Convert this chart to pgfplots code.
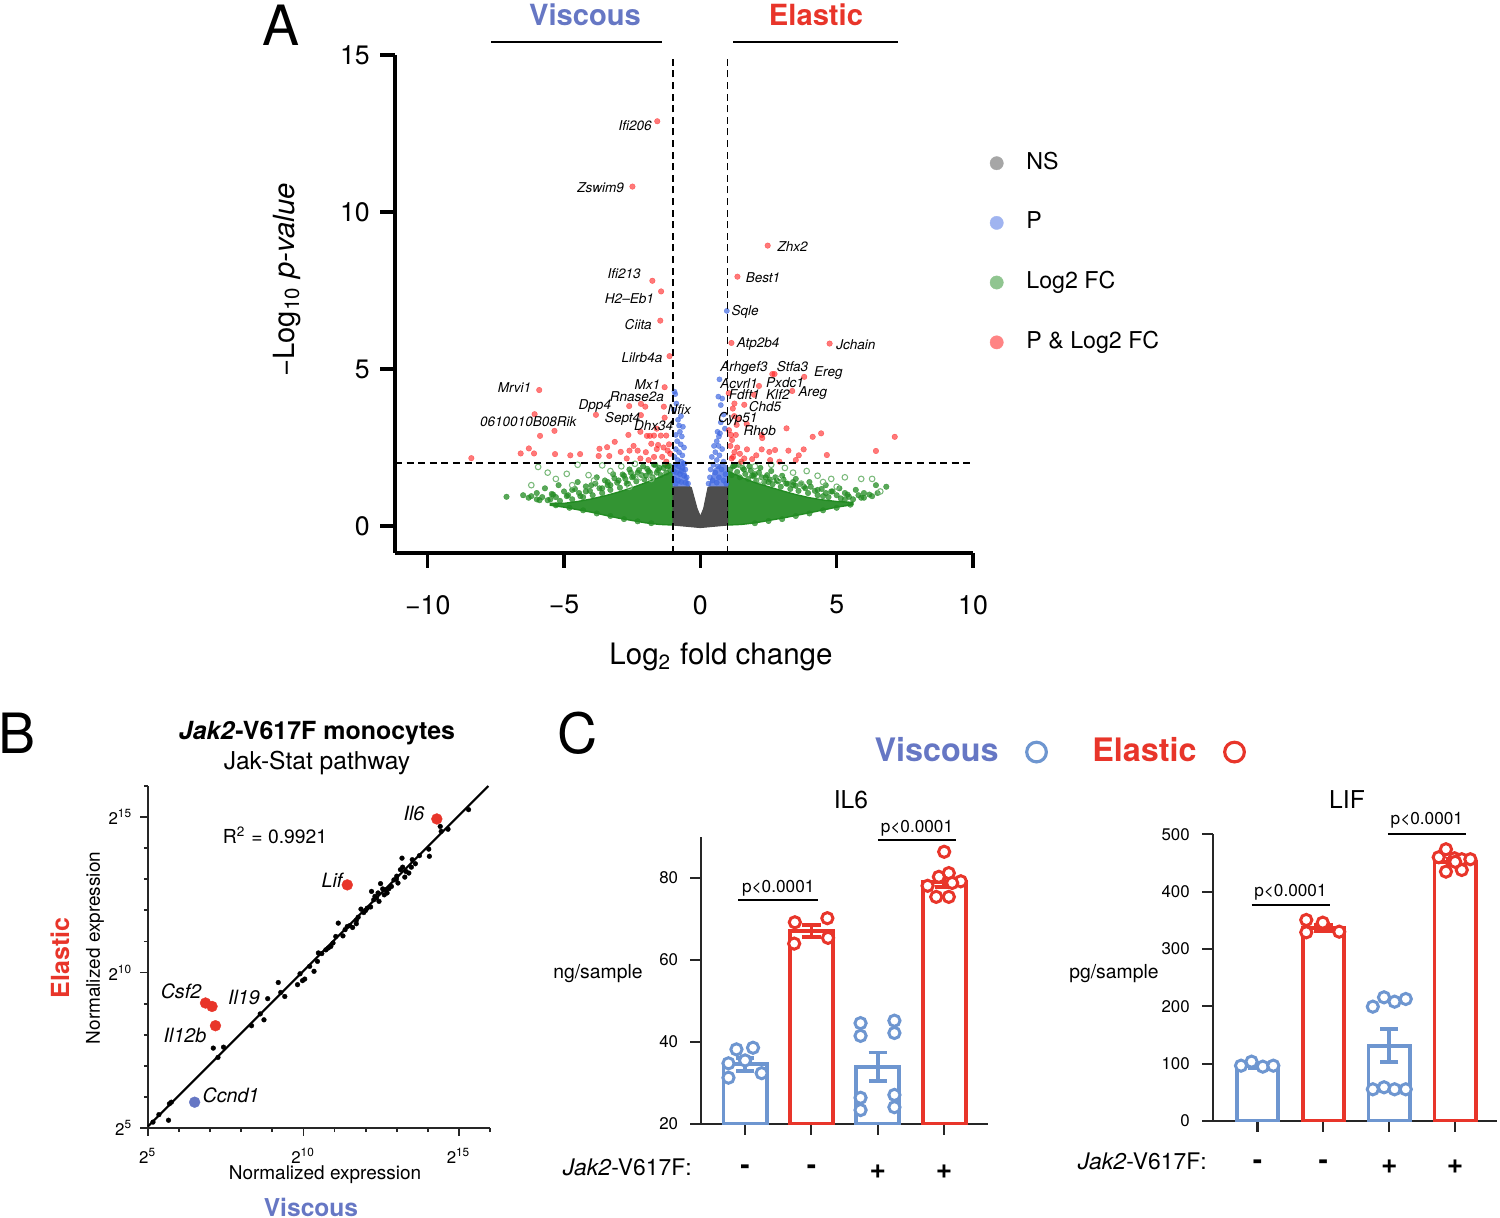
\documentclass[border=0pt]{standalone}
\usepackage{pgfplots}
\pgfplotsset{compat=1.18}
\usepackage{fontspec}
\setmainfont{TeX Gyre Heros}
\definecolor{vblue}{HTML}{6677C4}
\definecolor{ered}{HTML}{E8352A}
\definecolor{barblue}{HTML}{6E96D0}
\definecolor{nsgray}{HTML}{4D4D4D}
\definecolor{fcgreen}{HTML}{228B22}
\definecolor{pblue}{HTML}{4169E1}
\definecolor{pred}{HTML}{FF2020}
\newcommand{\fs}[1]{\fontsize{#1}{#1}\selectfont}
\pgfplotsset{every axis/.append style={/pgf/number format/assume math mode=true}}
\begin{document}
\begin{tikzpicture}
\useasboundingbox (0,0) rectangle (15,12.17);

% ================= Panel A =================
\begin{axis}[
  at={(3.95cm,6.64cm)}, anchor=south west, scale only axis,
  width=5.78cm, height=4.98cm,
  xmin=-11.2, xmax=10, ymin=-0.86, ymax=15,
  axis lines*=left,
  axis line style={line width=1pt, black},
  tick align=outside, major tick length=4.2pt,
  tick style={line width=1pt, black},
  xtick={-10,-5,0,5,10}, ytick={0,5,10,15},
  xticklabels={−10,−5,0,5,10},
  yticklabels={0,5,10,15},
  ticklabel style={font=\fs{7.6}},
  xticklabel style={yshift=-1.5mm},
  yticklabel style={xshift=0.2mm},
  clip mode=individual,
  legend style={at={(1.01,0.835)}, anchor=north west, draw=none, fill=none,
    font=\fs{6.6}, row sep=6.6pt, cells={anchor=west},
    /tikz/every odd column/.append style={column sep=1.6mm}},
  legend image code/.code={\draw[#1] plot coordinates {(0.1cm,0cm)};},
]
\addlegendimage{only marks, mark=*, mark size=1.9pt, mark options={draw=black!35, fill=black!35, line width=0.1pt}}
\addlegendentry{NS}
\addlegendimage{only marks, mark=*, mark size=1.9pt, mark options={draw=pblue!50!white, fill=pblue!50!white, line width=0.1pt}}
\addlegendentry{P}
\addlegendimage{only marks, mark=*, mark size=1.9pt, mark options={draw=fcgreen!50!white, fill=fcgreen!50!white, line width=0.1pt}}
\addlegendentry{Log2 FC}
\addlegendimage{only marks, mark=*, mark size=1.9pt, mark options={draw=pred!55!white, fill=pred!55!white, line width=0.1pt}}
\addlegendentry{P \& Log2 FC}

% dense green (Log2 FC) cores
\addplot[fill=fcgreen, draw=fcgreen, fill opacity=0.92, line width=0.4pt, forget plot] coordinates {
(-1,1.75) (-1.5,1.55) (-2.0,1.38) (-2.5,1.22) (-3.0,1.08) (-3.5,0.96) (-4.0,0.86) (-4.5,0.78) (-5.0,0.72) (-5.5,0.72)
(-5.5,0.66) (-5.0,0.60) (-4.0,0.44) (-3.0,0.25) (-2.0,0.10) (-1.5,0.05) (-1.0,0.03)} --cycle;
\addplot[fill=fcgreen, draw=fcgreen, fill opacity=0.92, line width=0.4pt, forget plot] coordinates {
(1,1.75) (1.5,1.55) (2.0,1.38) (2.5,1.25) (3.0,1.12) (3.5,1.0) (4.0,0.9) (4.5,0.83) (5.0,0.78) (5.6,0.75)
(5.6,0.68) (5.0,0.60) (4.0,0.42) (3.0,0.25) (2.0,0.10) (1.5,0.05) (1.0,0.03)} --cycle;
% green points
\addplot[only marks, mark=*, mark size=0.8pt, mark options={draw=fcgreen, fill=fcgreen, line width=0.1pt, opacity=0.75}, forget plot] coordinates {
(-7.11,0.93) (-6.0,1.05) (-5.7,1.2) (-5.4,1.0) (-5.2,1.3) (-4.9,0.95) (-4.7,1.15) (-4.5,1.4) (-4.2,1.1) (-4.0,1.3)
(-3.8,1.55) (-3.6,1.2) (-3.4,1.4) (-3.2,1.65) (-3.0,1.45) (-2.8,1.6) (-2.6,1.8) (-2.5,1.55) (-2.3,1.7) (-2.1,1.9)
(-1.9,1.75) (-1.7,1.95) (-1.5,1.85) (-1.3,1.95) (-1.2,1.9) (-6.3,0.9) (-5.9,0.82) (-3.3,1.3) (-2.7,1.35) (-2.0,1.6)
(-1.6,1.7) (-4.4,0.95) (-5.5,0.85)
(-1.1,1.78) (-1.15,1.92) (-1.25,1.70) (-1.35,1.85) (-1.45,1.62) (-1.55,1.78) (-1.65,1.95) (-1.75,1.55) (-1.85,1.70)
(-1.95,1.82) (-2.05,1.48) (-2.15,1.62) (-2.25,1.78) (-2.35,1.42) (-2.45,1.58) (-2.55,1.70) (-2.65,1.35) (-2.75,1.50)
(-2.85,1.64) (-2.95,1.22) (-3.05,1.38) (-3.15,1.52) (-3.3,1.15) (-3.4,1.30) (-3.5,1.45) (-3.6,1.05) (-3.7,1.20)
(-3.85,1.35) (-3.95,0.98) (-4.05,1.12) (-4.2,1.26) (-4.3,0.92) (-4.45,1.05) (-4.6,1.18) (-4.7,0.85) (-4.85,0.98)
(-5.0,1.10) (-5.15,0.80) (-5.3,0.92) (-5.45,1.02) (-5.6,0.82) (-5.8,0.92) (-6.0,0.85) (-6.2,0.95) (-6.5,0.98)
(-5.3,0.66) (-4.8,0.58) (-4.3,0.50) (-3.8,0.40) (-3.3,0.32) (-2.8,0.22) (-2.3,0.15) (-1.8,0.09)
(6.82,1.25) (6.44,1.30) (6.0,1.05) (5.7,1.15) (5.4,1.0) (5.1,1.2) (4.8,1.1) (4.6,1.3) (4.3,1.15) (4.0,1.4)
(3.8,1.25) (3.5,1.5) (3.2,1.35) (3.0,1.6) (2.8,1.45) (2.6,1.75) (2.4,1.55) (2.2,1.85) (2.0,1.65) (1.8,1.9)
(1.6,1.8) (1.4,1.95) (1.2,1.9) (6.3,0.95) (5.9,0.9) (3.4,1.3) (2.5,1.4) (1.9,1.6) (4.5,0.95) (5.3,0.85)
(1.1,1.80) (1.15,1.62) (1.25,1.92) (1.35,1.72) (1.45,1.55) (1.55,1.85) (1.65,1.66) (1.75,1.50) (1.85,1.76)
(1.95,1.60) (2.05,1.45) (2.15,1.70) (2.25,1.55) (2.35,1.40) (2.45,1.62) (2.55,1.48) (2.65,1.33) (2.75,1.55)
(2.85,1.42) (2.95,1.25) (3.05,1.48) (3.15,1.35) (3.3,1.18) (3.4,1.40) (3.5,1.28) (3.6,1.12) (3.7,1.33)
(3.85,1.20) (3.95,1.05) (4.05,1.25) (4.2,1.12) (4.3,0.98) (4.45,1.18) (4.6,1.05) (4.7,0.92) (4.85,1.10)
(5.0,0.98) (5.15,0.88) (5.3,1.05) (5.45,0.93) (5.6,0.85) (5.8,0.98) (6.0,0.90) (6.2,1.0) (6.5,1.05)
(5.5,0.68) (5.0,0.58) (4.5,0.50) (4.0,0.40) (3.5,0.32) (3.0,0.22) (2.5,0.16) (2.0,0.09)};
\addplot[only marks, mark=o, mark size=0.8pt, mark options={draw=fcgreen!60!white, line width=0.3pt}, forget plot] coordinates {
(-5.95,1.88) (-5.6,1.70) (-4.9,1.66) (-4.5,1.95) (-4.1,1.62) (-3.6,1.93) (-3.3,1.75) (-2.9,1.9) (-2.4,1.98) (-2.2,1.55)
(-1.8,1.5) (-5.3,1.5) (-6.2,1.3) (-3.9,1.45) (-2.6,1.25) (-4.7,1.3)
(1.5,1.98) (2.0,1.9) (2.6,1.95) (3.1,1.85) (3.4,1.7) (3.9,1.75) (4.3,1.6) (4.8,1.5) (5.3,1.55) (5.9,1.5)
(6.3,1.5) (2.2,1.45) (2.9,1.5) (3.7,1.35) (4.5,1.4) (5.0,1.25) (6.6,1.1)};
% NS cloud
\addplot[fill=nsgray, draw=nsgray, line width=0.3pt, forget plot] coordinates {
(-1,0.03) (-1,1.30) (-0.5,1.30) (-0.33,1.22) (-0.12,0.55) (0,0.30) (0.12,0.55) (0.28,1.22) (0.45,1.30)
(1,1.30) (1,0.03) (0.5,-0.01) (0,-0.05) (-0.5,-0.01)} --cycle;
% P (blue)
\addplot[fill=pblue!75!white, draw=pblue!75!white, line width=0.3pt, forget plot] coordinates {
(-1,1.28) (-0.42,1.28) (-0.5,1.6) (-0.62,1.95) (-0.95,2.0) (-1,1.9)} --cycle;
\addplot[fill=pblue!75!white, draw=pblue!75!white, line width=0.3pt, forget plot] coordinates {
(0.32,1.28) (1,1.28) (1,1.9) (0.8,2.0) (0.5,1.8)} --cycle;
\addplot[only marks, mark=*, mark size=0.75pt, mark options={draw=pblue, fill=pblue, line width=0.1pt, opacity=0.7}, forget plot] coordinates {
(-0.95,4.28) (-0.92,4.20) (-0.71,3.50) (-0.82,3.38) (-0.64,3.16) (-0.75,3.0) (-0.68,2.85) (-0.85,2.7) (-0.72,2.6)
(-0.60,2.5) (-0.90,2.45) (-0.78,2.35) (-0.66,2.25) (-0.95,2.2) (-0.83,2.1) (-0.7,2.05) (-0.58,1.98) (-0.92,1.95)
(-0.8,1.9) (-0.65,1.85) (-0.55,1.8) (-0.97,1.75) (-0.88,1.7) (-0.75,1.65) (-0.6,1.6) (-0.5,1.55) (-0.95,1.5)
(-0.82,1.45) (-0.7,1.4) (-0.55,1.38) (-0.45,1.35) (-0.9,1.35) (-0.97,3.7) (-0.88,3.9) (-0.78,3.2) (-0.9,2.9)
(-0.62,2.0) (-0.7,1.75)
(0.70,4.67) (0.66,4.12) (0.80,4.06) (0.75,3.85) (0.63,3.0) (0.68,2.85) (0.72,2.95) (0.6,2.7) (0.5,2.55) (0.67,2.55)
(0.8,2.45) (0.55,2.35) (0.42,2.2) (0.7,2.25) (0.6,2.1) (0.85,2.05) (0.48,1.95) (0.65,1.9) (0.38,1.8) (0.78,1.8)
(0.55,1.7) (0.92,1.65) (0.35,1.55) (0.68,1.55) (0.45,1.45) (0.85,1.45) (0.3,1.35) (0.6,1.38) (0.95,1.35)
(0.75,3.3) (0.85,3.55) (0.9,3.1) (0.97,6.85)};
% P & Log2 FC (red)
\addplot[only marks, mark=*, mark size=0.8pt, mark options={draw=pred, fill=pred, line width=0.1pt, opacity=0.6}, forget plot] coordinates {
(-1.58,12.89) (-2.49,10.81) (2.47,8.93) (-1.76,7.81) (1.36,7.94) (-1.44,7.47) (-1.47,6.54) (1.14,5.83) (4.74,5.81) (-1.13,5.41)
(2.64,4.84) (2.72,4.84) (3.81,4.75) (-5.91,4.33) (-1.31,4.42) (2.15,4.46) (3.37,4.30) (1.04,4.23) (1.97,4.18)
(-2.18,3.89) (-2.02,3.80) (-1.34,3.80) (-3.83,3.54) (1.61,3.86) (1.19,3.74) (-2.61,3.82) (-2.18,3.53) (-6.08,3.56)
(1.33,3.22) (-1.31,3.45) (1.24,3.50)
(-5.35,3.03) (-5.88,2.87) (-8.40,2.16) (-6.59,2.31) (-6.29,2.47) (-6.10,2.31) (-5.33,2.29) (-4.77,2.25) (-4.41,2.29)
(-3.70,2.46) (-3.42,2.51) (-3.14,2.68) (-3.73,2.23) (-3.34,2.23) (-2.92,2.36) (-2.64,2.90) (-1.96,2.87) (-1.85,2.87)
(-1.70,2.88) (-1.45,2.88) (-1.25,2.88) (-1.80,2.62) (-1.55,2.58) (-1.35,2.50) (-1.20,2.40) (-2.60,2.40) (-2.70,2.15)
(-2.30,2.40) (-2.20,2.15) (-1.70,2.20) (-1.40,2.20) (-1.10,2.30) (-2.00,2.35) (-1.60,2.45) (-1.25,2.05) (-2.45,2.55)
(-1.90,2.10) (-1.15,2.60) (-2.20,3.00) (-1.60,3.10)
(1.12,2.90) (1.30,2.90) (3.16,3.11) (2.25,2.90) (2.27,2.80) (4.43,2.95) (4.12,2.84) (7.13,2.84) (6.44,2.39) (4.64,2.26)
(3.79,2.44) (3.61,2.25) (3.23,2.40) (2.74,2.42) (2.53,2.36) (2.56,2.10) (2.25,2.44) (1.71,2.44) (1.61,2.15) (1.90,2.13)
(1.16,2.74) (1.10,2.55) (1.25,2.35) (1.15,2.15) (1.35,2.50) (1.20,2.20) (1.45,2.30) (1.50,2.05) (2.05,2.25) (2.90,2.05)
(3.50,2.10) (1.05,3.05) (1.40,3.40) (1.70,3.25) (1.25,3.90)};
% thresholds
\addplot[black, line width=0.45pt, dash pattern=on 2pt off 1.3pt, forget plot] coordinates {(-1,-0.86) (-1,15)};
\addplot[black, line width=0.45pt, dash pattern=on 2pt off 1.3pt, forget plot] coordinates {(1,-0.86) (1,15)};
\addplot[black, line width=0.45pt, dash pattern=on 2pt off 1.3pt, forget plot] coordinates {(-11.2,2) (10,2)};
% gene labels
\begin{scope}[every node/.style={font=\fs{3.85}\itshape, inner sep=0pt}]
\node[anchor=east] at (axis cs:-1.76,12.74) {Ifi206};
\node[anchor=east] at (axis cs:-2.78,10.79) {Zswim9};
\node[anchor=west] at (axis cs:2.81,8.89) {Zhx2};
\node[anchor=east] at (axis cs:-2.16,8.03) {Ifi213};
\node[anchor=west] at (axis cs:1.64,7.91) {Best1};
\node[anchor=east] at (axis cs:-1.68,7.23) {H2\textendash Eb1};
\node[anchor=west] at (axis cs:1.12,6.82) {Sqle};
\node[anchor=east] at (axis cs:-1.76,6.43) {Ciita};
\node[anchor=west] at (axis cs:1.31,5.79) {Atp2b4};
\node[anchor=west] at (axis cs:4.96,5.77) {Jchain};
\node[anchor=east] at (axis cs:-1.37,5.37) {Lilrb4a};
\node[anchor=west] at (axis cs:0.71,5.02) {Arhgef3};
\node[anchor=west] at (axis cs:2.78,5.07) {Stfa3};
\node[anchor=west] at (axis cs:4.15,4.88) {Ereg};
\node[anchor=east] at (axis cs:-6.18,4.42) {Mrvi1};
\node[anchor=east] at (axis cs:-1.45,4.49) {Mx1};
\node[anchor=west] at (axis cs:0.71,4.53) {Acvrl1};
\node[anchor=west] at (axis cs:2.39,4.58) {Pxdc1};
\node[anchor=west] at (axis cs:3.58,4.25) {Areg};
\node[anchor=west] at (axis cs:1.02,4.17) {Fdft1};
\node[anchor=west] at (axis cs:2.39,4.18) {Klf2};
\node[anchor=east] at (axis cs:-1.31,4.12) {Rnase2a};
\node[anchor=east] at (axis cs:-3.25,3.82) {Dpp4};
\node[anchor=west] at (axis cs:1.75,3.80) {Chd5};
\node[anchor=west] at (axis cs:-1.23,3.72) {Nfix};
\node[anchor=west] at (axis cs:0.63,3.40) {Cyp51};
\node[anchor=east] at (axis cs:-2.18,3.40) {Sept4};
\node[anchor=east] at (axis cs:-0.97,3.19) {Dhx34};
\node[anchor=east] at (axis cs:-4.52,3.32) {0610010B08Rik};
\node[anchor=west] at (axis cs:1.56,3.03) {Rhob};
\end{scope}
\end{axis}

% Panel A texts
\node[font=\fs{15.8}] at (2.81,11.92) {A};
\node[font=\fs{8.3}\bfseries, text=vblue] at (5.85,12.02) {Viscous};
\node[font=\fs{8.3}\bfseries, text=ered] at (8.16,12.02) {Elastic};
\draw[line width=0.6pt] (4.91,11.75) -- (6.62,11.75);
\draw[line width=0.6pt] (7.33,11.75) -- (8.98,11.75);
\node[font=\fs{8.3}, rotate=90] at (2.87,9.37) {−Log\textsubscript{10} \textit{p-value}};
\node[font=\fs{8.4}] at (7.21,5.60) {Log\textsubscript{2} fold change};

% ================= Panel B =================
\begin{axis}[
  at={(1.48cm,0.89cm)}, anchor=south west, scale only axis,
  width=3.42cm, height=3.42cm,
  xmin=5, xmax=16, ymin=5, ymax=16,
  axis lines*=left,
  axis line style={line width=0.5pt, black!85},
  tick align=outside, major tick length=2.2pt, minor tick length=1.2pt,
  tick style={line width=0.5pt, black!85},
  xtick={5,10,15}, ytick={5,10,15},
  minor xtick={6,7,8,9,11,12,13,14,16}, minor ytick={6,7,8,9,11,12,13,14,16},
  xticklabels={2\textsuperscript{5},2\textsuperscript{10},2\textsuperscript{15}},
  yticklabels={2\textsuperscript{5},2\textsuperscript{10},2\textsuperscript{15}},
  ticklabel style={font=\fs{4.8}},
  yticklabel style={xshift=0.5mm},
  clip=false,
]
\addplot[black, line width=0.6pt] coordinates {(5,5.05) (15.95,16)};
\addplot[only marks, mark=*, mark size=0.68pt, mark options={fill=black, draw=black, line width=0.1pt}] coordinates {
(5.16,5.19) (5.35,5.43) (5.69,5.78) (5.75,5.83) (5.66,5.25) (7.10,7.57) (7.43,7.60) (7.25,7.27) (8.33,8.29) (8.61,8.67)
(8.73,8.48) (8.85,9.16) (9.19,9.68) (9.27,9.36) (9.40,9.23) (9.81,9.61) (9.89,9.96) (9.97,9.74) (10.04,9.79) (10.20,10.20)
(10.34,10.04) (10.45,10.36) (10.48,10.63) (10.59,10.61) (10.72,10.73) (10.80,10.79) (10.88,10.84) (11.04,11.16) (11.12,11.59)
(11.27,11.18) (11.34,11.38) (11.49,11.51) (11.70,11.57) (11.76,11.78) (11.85,12.04) (11.94,11.93) (12.05,12.07) (12.16,12.11)
(12.19,12.61) (12.30,12.45) (12.40,12.56) (12.48,12.86) (12.55,12.69) (12.69,12.56) (12.83,12.77) (12.91,12.98) (13.04,12.88)
(12.99,13.01) (13.12,13.31) (13.19,13.39) (13.17,13.68) (13.26,13.07) (13.39,13.20) (13.47,13.39) (13.50,13.63) (13.73,13.76)
(14.03,13.97) (14.05,13.74) (14.40,14.70) (14.43,14.54) (14.65,14.61) (15.31,15.24) (12.26,12.34) (12.43,12.29) (12.64,12.66)
(11.70,11.68) (11.41,11.48) (10.95,10.95) (11.58,11.45) (12.0,12.0) (12.35,12.4) (12.6,12.5) (12.75,12.7) (13.0,13.1)
(13.3,13.25) (13.6,13.5)};
\addplot[only marks, mark=*, mark size=1.55pt, mark options={fill=ered, draw=ered, line width=0.1pt}] coordinates {
(14.29,14.94) (11.41,12.82) (6.85,9.02) (7.06,8.91) (7.17,8.29)};
\addplot[only marks, mark=*, mark size=1.55pt, mark options={fill=vblue, draw=vblue, line width=0.1pt}] coordinates {(6.50,5.83)};
\end{axis}

% Panel B texts
\node[font=\fs{15.8}] at (0.17,4.84) {B};
\node[font=\fs{7.1}\bfseries] at (3.17,4.84) {\textit{Jak2}-V617F monocytes};
\node[font=\fs{7.0}] at (3.17,4.54) {Jak-Stat pathway};
\node[font=\fs{5.5}] at (2.75,3.82) {R\textsuperscript{2} = 0.9921};
\node[font=\fs{5.4}, rotate=90] at (0.95,2.69) {Normalized expression};
\node[font=\fs{7.1}\bfseries, text=ered, rotate=90] at (0.60,2.59) {Elastic};
\node[font=\fs{5.4}] at (3.25,0.42) {Normalized expression};
\node[font=\fs{7.0}\bfseries, text=vblue] at (3.11,0.10) {Viscous};
\begin{scope}[every node/.style={font=\fs{5.6}\itshape, inner sep=0pt}]
\node at (4.14,4.04) {Il6};
\node at (3.32,3.37) {Lif};
\node at (1.81,2.26) {Csf2};
\node at (2.44,2.20) {Il19};
\node at (1.85,1.82) {Il12b};
\node at (2.31,1.22) {Ccnd1};
\end{scope}

% ================= Panel C: IL6 =================
\begin{axis}[
  at={(7.01cm,0.93cm)}, anchor=south west, scale only axis,
  width=2.87cm, height=2.87cm,
  xmin=0.336, xmax=4.66, ymin=20, ymax=90,
  axis lines*=left,
  axis line style={line width=0.6pt, black!85},
  tick align=outside, major tick length=3pt,
  tick style={line width=0.6pt, black!85},
  xtick={1,2,3,4}, ytick={20,40,60,80},
  xticklabels={\textbf{-},\textbf{-},\textbf{+},\textbf{+}},
  xticklabel style={font=\fs{8}, yshift=-1.8mm},
  yticklabel style={font=\fs{4.8}},
  clip mode=individual,
  legend style={at={(1.237,1.296)}, anchor=center, draw=none, fill=none,
    legend columns=2, font=\fs{9.2},
    /tikz/every even column/.append style={column sep=0.39cm},
    /tikz/every odd column/.append style={column sep=0.21cm}},
  legend plot pos=right,
  legend image code/.code={\draw[#1] plot coordinates {(0.15cm,0cm)};},
]
\addlegendimage{only marks, mark=o, mark size=2.8pt, mark options={line width=0.9pt, draw=barblue}}
\addlegendentry{\textcolor{vblue}{\textbf{Viscous}}}
\addlegendimage{only marks, mark=o, mark size=2.8pt, mark options={line width=0.9pt, draw=ered}}
\addlegendentry{\textcolor{ered}{\textbf{Elastic}}}
\addplot[ybar, bar width=0.65, bar shift=0pt, draw=barblue, fill=none, line width=1.1pt, forget plot,
  error bars/.cd, y dir=both, y explicit,
  error bar style={line width=1.1pt, barblue},
  error mark options={rotate=90, mark size=2.6pt, line width=1.1pt, barblue}]
  coordinates {(1,34.6) +- (0,1.6) (3,34.0) +- (0,3.45)};
\addplot[ybar, bar width=0.65, bar shift=0pt, draw=ered, fill=none, line width=1.1pt, forget plot,
  error bars/.cd, y dir=both, y explicit,
  error bar style={line width=1.1pt, ered},
  error mark options={rotate=90, mark size=2.6pt, line width=1.1pt, ered}]
  coordinates {(2,67.1) +- (0,1.5) (4,79.0) +- (0,1.2)};
\addplot[only marks, mark=*, mark size=1.6pt, mark options={line width=0.85pt, draw=barblue, fill=white}, forget plot] coordinates {
(0.75,34.8) (0.87,38.2) (1.0,35.5) (1.12,38.6) (0.75,31.3) (1.25,32.4)
(2.74,44.6) (2.74,41.5) (3.25,45.2) (3.25,42.2) (2.74,26.4) (2.74,23.4) (3.25,27.1) (3.25,24.1)};
\addplot[only marks, mark=*, mark size=1.6pt, mark options={line width=0.85pt, draw=ered, fill=white}, forget plot] coordinates {
(1.75,69.2) (2.24,70.2) (1.74,64.0) (2.25,65.4)
(4.0,86.4) (4.07,81.2) (3.92,80.3) (3.75,78.1) (4.25,79.2) (4.12,78.8) (3.88,75.4) (4.07,75.4)};
\draw[line width=0.5pt] (axis cs:0.9,74.7) -- (axis cs:2.1,74.7);
\node[font=\fs{4.9}] at (axis cs:1.5,77.6) {p<0.0001};
\draw[line width=0.5pt] (axis cs:3.0,89.2) -- (axis cs:4.18,89.2);
\node[font=\fs{4.9}] at (axis cs:3.59,92.2) {p<0.0001};
\end{axis}

% ================= Panel C: LIF =================
\begin{axis}[
  at={(12.127cm,0.96cm)}, anchor=south west, scale only axis,
  width=2.84cm, height=2.867cm,
  xmin=0.32, xmax=4.63, ymin=0, ymax=500,
  axis lines*=left,
  axis line style={line width=0.6pt, black!85},
  tick align=outside, major tick length=3pt,
  tick style={line width=0.6pt, black!85},
  xtick={1,2,3,4}, ytick={0,100,200,300,400,500},
  xticklabels={\textbf{-},\textbf{-},\textbf{+},\textbf{+}},
  xticklabel style={font=\fs{8}, yshift=-1.6mm},
  yticklabel style={font=\fs{4.8}},
  clip mode=individual,
]
\addplot[ybar, bar width=0.63, bar shift=0pt, draw=barblue, fill=none, line width=1.1pt,
  error bars/.cd, y dir=both, y explicit,
  error bar style={line width=1.1pt, barblue},
  error mark options={rotate=90, mark size=2.6pt, line width=1.1pt, barblue}]
  coordinates {(1,95.0) +- (0,2) (3,131.4) +- (0,29)};
\addplot[ybar, bar width=0.63, bar shift=0pt, draw=ered, fill=none, line width=1.1pt,
  error bars/.cd, y dir=both, y explicit,
  error bar style={line width=1.1pt, ered},
  error mark options={rotate=90, mark size=2.6pt, line width=1.1pt, ered}]
  coordinates {(2,337) +- (0,5) (4,452) +- (0,5)};
\addplot[only marks, mark=*, mark size=1.6pt, mark options={line width=0.85pt, draw=barblue, fill=white}] coordinates {
(0.75,96.5) (0.91,103.5) (1.08,94.8) (1.24,96.5)
(2.75,199.4) (2.92,215.7) (3.08,208.1) (3.25,212.8) (2.75,55.3) (2.92,58.8) (3.08,55.3) (3.25,55.3)};
\addplot[only marks, mark=*, mark size=1.6pt, mark options={line width=0.85pt, draw=ered, fill=white}] coordinates {
(1.74,350.6) (1.99,345.9) (1.74,329.1) (2.24,330.2)
(3.75,460) (3.86,473.9) (3.99,458.2) (4.10,456.5) (4.23,456.5) (3.86,434.9) (4.10,437.8) (4.0,452)};
\draw[line width=0.5pt] (axis cs:0.91,376.8) -- (axis cs:2.10,376.8);
\node[font=\fs{4.9}] at (axis cs:1.50,398.2) {p<0.0001};
\draw[line width=0.5pt] (axis cs:2.98,500.6) -- (axis cs:4.16,500.6);
\node[font=\fs{4.9}] at (axis cs:3.57,523.8) {p<0.0001};
\end{axis}

% Panel C texts
\node[font=\fs{15.8}] at (5.78,4.84) {C};
\node[font=\fs{7}] at (8.51,4.17) {IL6};
\node[font=\fs{7}] at (13.47,4.17) {LIF};
\node[font=\fs{5.5}] at (5.98,2.43) {ng/sample};
\node[font=\fs{5.5}] at (11.14,2.43) {pg/sample};
\node[font=\fs{6.5}, anchor=east] at (7.04,0.50) {\textit{Jak2}-V617F:};
\node[font=\fs{6.5}, anchor=east] at (12.19,0.56) {\textit{Jak2}-V617F:};
\end{tikzpicture}
\end{document}
